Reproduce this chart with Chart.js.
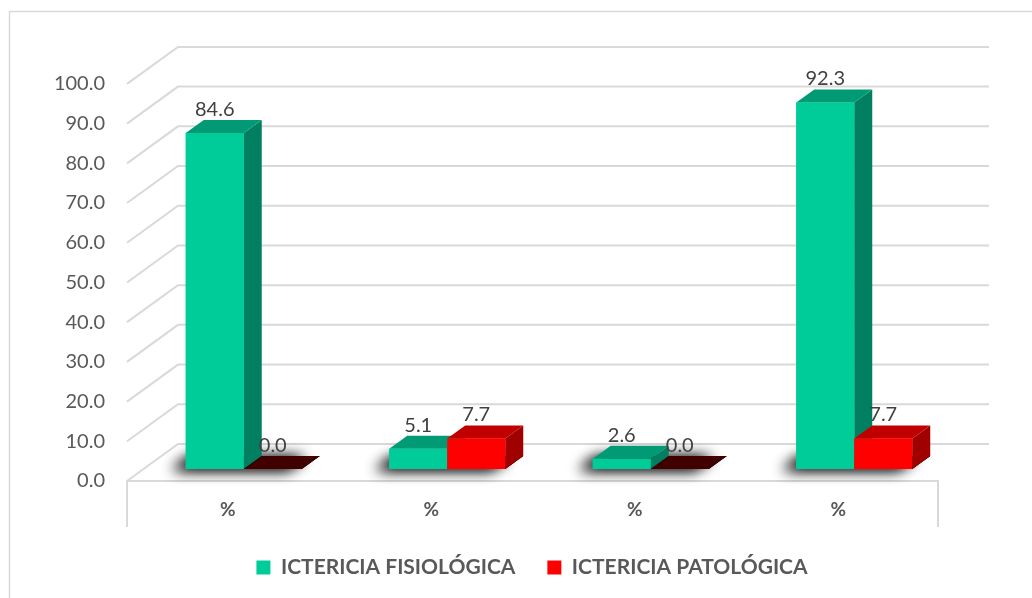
<!DOCTYPE html>
<html lang="es">
<head>
  <meta charset="UTF-8">
  <title>Ictericia</title>
  <script src="https://cdn.jsdelivr.net/npm/chart.js"></script>
  <style>
    body { margin: 0; background: #fff; }
    #wrap { width: 1032px; height: 598px; position: relative; }
  </style>
</head>
<body>
  <div id="wrap"><canvas id="ictChart"></canvas></div>

  <script>
    const categories = ['%', '%', '%', '%'];
    const fisiologica = [84.6, 5.1, 2.6, 92.3];
    const patologica = [0.0, 7.7, 0.0, 7.7];
    const seriesNames = ['ICTERICIA FISIOLÓGICA', 'ICTERICIA PATOLÓGICA'];
    const yTicks = [0, 10, 20, 30, 40, 50, 60, 70, 80, 90, 100];

    // colores de cada cara (frente, arriba, lado)
    const faces = [
      { front: '#00CC99', top: '#009B74', side: '#008060' },
      { front: '#FF0000', top: '#C00000', side: '#A00000' }
    ];
    const zeroTop = '#400000';
    const gridColor = '#D9D9D9';

    // profundidad del piso y de las barras
    const FLOOR_DX = 51, FLOOR_DY = -37;
    const BAR_DX = 18, BAR_DY = -13;

    function barBox(el) {
      const p = el.getProps(['x', 'y', 'base', 'width'], true);
      return { l: p.x - p.width / 2, r: p.x + p.width / 2, top: p.y, base: p.base, x: p.x };
    }

    function poly(ctx, pts, color) {
      ctx.beginPath();
      ctx.moveTo(pts[0][0], pts[0][1]);
      for (let i = 1; i < pts.length; i++) ctx.lineTo(pts[i][0], pts[i][1]);
      ctx.closePath();
      ctx.fillStyle = color;
      ctx.fill();
    }

    const depth3d = {
      id: 'depth3d',
      beforeDraw(chart) {
        const { ctx, chartArea: ca } = chart;
        const yl = chart.scales.yl;
        const fl = ca.left - 15, fr = ca.right - 18;
        ctx.save();
        ctx.strokeStyle = gridColor;
        ctx.lineWidth = 1.5;
        ctx.strokeRect(9.5, 11.5, 1040, 600);

        ctx.lineWidth = 2;
        yTicks.forEach(v => {
          const y = yl.getPixelForValue(v);
          ctx.beginPath();
          ctx.moveTo(fl, y);
          ctx.lineTo(fl + FLOOR_DX, y + FLOOR_DY);
          ctx.lineTo(fr + FLOOR_DX, y + FLOOR_DY);
          ctx.stroke();
        });
        const y0 = yl.getPixelForValue(0);
        ctx.beginPath();
        ctx.moveTo(fl, y0 + 46);
        ctx.lineTo(fl, y0);
        ctx.lineTo(fr, y0);
        ctx.lineTo(fr, y0 + 46);
        ctx.stroke();
        ctx.restore();
      },
      beforeDatasetsDraw(chart) {
        const { ctx } = chart;
        const m0 = chart.getDatasetMeta(0), m1 = chart.getDatasetMeta(1);
        ctx.save();
        m0.data.forEach((el, j) => {
          const a = barBox(el), b = barBox(m1.data[j]);
          const pts = [[a.l, a.base], [a.l + BAR_DX, a.base + BAR_DY],
                       [b.r + BAR_DX, b.base + BAR_DY], [b.r, b.base]];
          ctx.shadowColor = 'rgba(0,0,0,0.9)';
          ctx.shadowBlur = 14;
          ctx.shadowOffsetX = -14;
          ctx.shadowOffsetY = 1;
          poly(ctx, pts, 'rgba(0,0,0,0.9)');
          poly(ctx, pts, 'rgba(0,0,0,0.9)');
        });
        ctx.restore();
      },
      afterDatasetsDraw(chart) {
        const { ctx } = chart;
        const metas = [chart.getDatasetMeta(0), chart.getDatasetMeta(1)];
        ctx.save();
        metas[0].data.forEach((_, j) => {
          metas.forEach((meta, i) => {
            const b = barBox(meta.data[j]);
            const val = chart.data.datasets[i].data[j];
            const c = faces[i];
            if (val === 0) {
              poly(ctx, [[b.l, b.base], [b.l + BAR_DX, b.base + BAR_DY],
                         [b.r + BAR_DX, b.base + BAR_DY], [b.r, b.base]], zeroTop);
              return;
            }
            poly(ctx, [[b.r, b.top], [b.r + BAR_DX, b.top + BAR_DY],
                       [b.r + BAR_DX, b.base + BAR_DY], [b.r, b.base]], c.side);
            poly(ctx, [[b.l, b.top], [b.l + BAR_DX, b.top + BAR_DY],
                       [b.r + BAR_DX, b.top + BAR_DY], [b.r, b.top]], c.top);
            poly(ctx, [[b.l, b.top], [b.r, b.top], [b.r, b.base], [b.l, b.base]], c.front);
          });
        });
        // etiquetas de datos
        ctx.font = '20px Lato';
        ctx.fillStyle = '#404040';
        ctx.textAlign = 'center';
        ctx.textBaseline = 'alphabetic';
        metas.forEach((meta, i) => {
          meta.data.forEach((el, j) => {
            const b = barBox(el);
            const val = chart.data.datasets[i].data[j];
            ctx.fillText(val.toFixed(1), b.x, b.top + BAR_DY - 4);
          });
        });
        ctx.restore();
      }
    };

    new Chart(document.getElementById('ictChart'), {
      type: 'bar',
      data: {
        labels: categories,
        datasets: [
          { label: seriesNames[0], data: fisiologica, backgroundColor: faces[0].front, borderWidth: 0, yAxisID: 'y' },
          { label: seriesNames[1], data: patologica, backgroundColor: faces[1].front, borderWidth: 0, yAxisID: 'y' }
        ]
      },
      options: {
        responsive: true,
        maintainAspectRatio: false,
        animation: false,
        layout: { padding: { left: 32, right: 0, top: 72, bottom: 10 } },
        datasets: { bar: { categoryPercentage: 0.57, barPercentage: 1 } },
        scales: {
          x: {
            grid: { display: false },
            border: { display: false },
            ticks: { color: '#595959', font: { family: 'Lato', size: 19, weight: 'bold' }, labelOffset: -16, padding: 9 },
            afterFit: s => { s.height = 44; }
          },
          yl: {
            position: 'left',
            min: 0, max: 103,
            grid: { display: false, drawTicks: false },
            border: { display: false },
            ticks: {
              stepSize: 10, includeBounds: false, padding: 37,
              color: '#595959', font: { family: 'Lato', size: 20 },
              callback: v => (yTicks.includes(v) ? v.toFixed(1) : null)
            },
            afterFit: s => { s.width = 110; }
          },
          y: {
            position: 'right',
            min: -3.022, max: 99.978,
            grid: { display: false, drawTicks: false },
            border: { display: false },
            ticks: { display: false },
            afterFit: s => { s.width = 76; }
          }
        },
        plugins: {
          legend: {
            position: 'bottom',
            labels: {
              boxWidth: 14, boxHeight: 14, padding: 32,
              color: '#595959', font: { family: 'Lato', size: 21, weight: 'bold' }
            }
          },
          tooltip: { enabled: false }
        }
      },
      plugins: [depth3d]
    });
  </script>
</body>
</html>
